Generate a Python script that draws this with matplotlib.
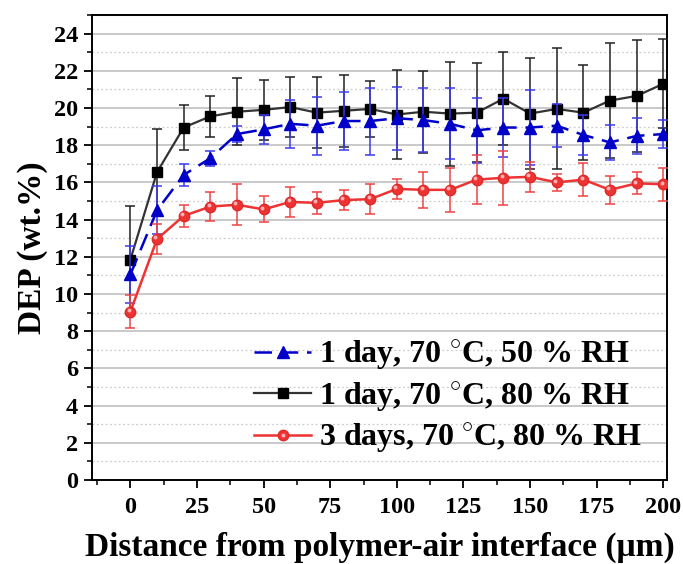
import numpy as np
import matplotlib
matplotlib.use("Agg")
import matplotlib.pyplot as plt
from matplotlib.ticker import MultipleLocator
from matplotlib.transforms import offset_copy
from matplotlib.legend_handler import HandlerTuple

# Distance from the interface (um)
distance = [0, 10, 20, 30, 40, 50, 60, 70, 80, 90, 100,
            110, 120, 130, 140, 150, 160, 170, 180, 190, 200]

# 1 day, 70 C, 50 % RH
dep_50 = [11.05, 14.5, 16.4, 17.3, 18.6, 18.85, 19.15, 19.05, 19.3, 19.3, 19.45,
          19.35, 19.15, 18.8, 18.95, 18.95, 19.05, 18.55, 18.15, 18.5, 18.6]
err_50 = [1.55, 1.3, 0.6, 0.4, 0.45, 0.8, 1.3, 1.55, 1.55, 1.8, 1.7,
          1.7, 1.9, 1.75, 1.6, 2.0, 1.15, 1.1, 0.95, 0.95, 0.75]

# 1 day, 70 C, 80 % RH
dep_80 = [11.85, 16.55, 18.95, 19.55, 19.8, 19.9, 20.05, 19.75, 19.85, 19.95, 19.65,
          19.8, 19.7, 19.75, 20.5, 19.7, 19.95, 19.75, 20.4, 20.65, 21.3]
err_80 = [2.9, 2.3, 1.2, 1.1, 1.8, 1.6, 1.6, 1.9, 1.95, 1.5, 2.4,
          2.2, 2.8, 2.65, 2.5, 3.0, 3.25, 2.55, 3.1, 3.0, 2.4]

# 3 days, 70 C, 80 % RH
dep_3d = [9.05, 12.95, 14.2, 14.7, 14.8, 14.55, 14.95, 14.9, 15.05, 15.1, 15.65,
          15.6, 15.6, 16.15, 16.25, 16.3, 16.0, 16.15, 15.6, 15.95, 15.9]
err_3d = [0.9, 0.8, 0.6, 0.8, 1.1, 0.7, 0.8, 0.6, 0.55, 0.8, 0.55,
          0.95, 1.2, 1.3, 1.45, 0.8, 0.45, 0.9, 0.75, 0.6, 0.9]

labels = ["1 day, 70 $^{\\circ}$C, 50 % RH",
          "1 day, 70 $^{\\circ}$C, 80 % RH",
          "3 days, 70 $^{\\circ}$C, 80 % RH"]

plt.rcParams['font.family'] = ['Liberation Serif', 'DejaVu Serif']
plt.rcParams['font.weight'] = 'bold'
plt.rcParams['mathtext.fontset'] = 'custom'
plt.rcParams['mathtext.rm'] = 'Liberation Serif:bold'

fig = plt.figure(figsize=(6.83, 5.64), dpi=100)
ax = fig.add_axes([0.1347, 0.1489, 0.8419, 0.8245])

# black: 1 day 80 % RH
h80 = ax.errorbar(distance, dep_80, yerr=err_80, color="#333333", lw=1.6,
                  marker="s", ms=6.5, mfc="black", mec="black",
                  ecolor="#222222", elinewidth=1.1, capsize=3.5, capthick=1.1,
                  zorder=3)
# blue: 1 day 50 % RH
h50 = ax.errorbar(distance, dep_50, yerr=err_50, color="#0000c8", lw=1.8,
                  ls=(0, (7, 3.5)), marker="^", ms=8.5, mfc="#0000c8",
                  mec="#0000c8", ecolor="#3a3af0", elinewidth=1.1,
                  capsize=3.5, capthick=1.1, zorder=4)
# red: 3 days 80 % RH
h3d = ax.errorbar(distance, dep_3d, yerr=err_3d, color="#ee3333", lw=1.8,
                  marker="o", ms=7.5, mfc="#ee3333", mec="#dd2a2a",
                  ecolor="#ee4444", elinewidth=1.1, capsize=3.5, capthick=1.1,
                  zorder=5)
# highlight on red balls
hl = offset_copy(ax.transData, fig=fig, x=-1.2, y=1.2, units='points')
shine, = ax.plot(distance, dep_3d, ls="none", marker="o", ms=2.8, mfc="#ffb0b0",
                 mec="none", transform=hl, zorder=6)

ax.set_xlim(-14.4, 201.4)
ax.set_ylim(0, 25)
ax.xaxis.set_major_locator(MultipleLocator(25))
ax.xaxis.set_minor_locator(MultipleLocator(12.5))
ax.yaxis.set_major_locator(MultipleLocator(2))
ax.yaxis.set_minor_locator(MultipleLocator(1))

ax.grid(True, which="major", axis="y", color="#c0c0c0", lw=1.2)
ax.grid(True, which="minor", axis="y", color="#cccccc", lw=0.9, ls=(0, (1.5, 2)))
ax.set_axisbelow(True)

ax.tick_params(which="major", direction="out", length=6, width=1.3,
               labelsize=17.5)
ax.tick_params(axis="x", which="major", pad=6)
ax.tick_params(axis="y", which="major", pad=4)
ax.tick_params(which="minor", direction="out", length=3.5, width=1.1)
for lab in ax.get_xticklabels() + ax.get_yticklabels():
    lab.set_fontweight("bold")
for sp in ax.spines.values():
    sp.set_linewidth(1.4)

ax.set_xlabel("Distance from polymer-air interface (\u03bcm)", fontsize=24,
              fontweight="bold", labelpad=10)
ax.set_ylabel("DEP (wt.%)", fontsize=24, fontweight="bold", labelpad=4)

leg = ax.legend([h50[0], h80[0], (h3d[0], shine)], labels, loc="lower right",
                bbox_to_anchor=(0.991, 0.012), frameon=False,
                prop={"family": "Liberation Serif", "weight": "bold", "size": 23},
                handler_map={tuple: HandlerTuple(ndivide=1)},
                handlelength=1.8, handletextpad=0.25, labelspacing=0.25,
                borderaxespad=0.2)

fig.savefig("out.png", dpi=100)
